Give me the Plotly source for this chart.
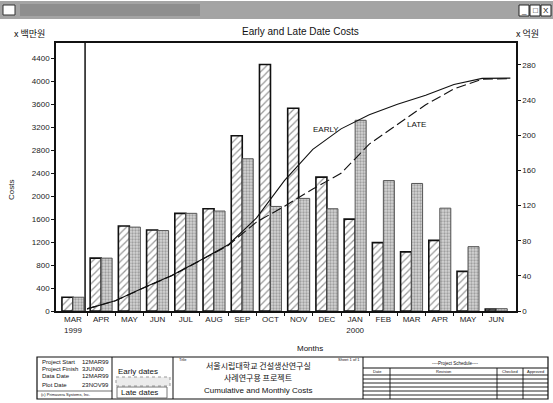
import plotly.graph_objects as go
import numpy as np

# ---- data -------------------------------------------------------------
months = ["MAR<br>1999", "APR", "MAY", "JUN", "JUL", "AUG", "SEP", "OCT",
          "NOV", "DEC", "JAN<br>2000", "FEB", "MAR", "APR", "MAY", "JUN"]
# monthly costs, 백만원
early_costs = [240, 920, 1480, 1410, 1700, 1780, 3050, 4290,
               3530, 2330, 1600, 1190, 1030, 1230, 690, 35]
late_costs = [240, 920, 1460, 1400, 1700, 1740, 2650, 1820,
              1960, 1780, 3320, 2270, 2220, 1790, 1120, 40]
left_ticks = list(range(0, 4401, 400))
right_ticks = list(range(0, 281, 40))

# ---- geometry of the page --------------------------------------------
W, H = 553, 403
L, R, T, B = 56, 516, 43, 311

def px(x):
    return (x - L) / (R - L)

def py(y):
    return (B - y) / (B - T)

FONT = "Liberation Sans, Arial, sans-serif"
KFONT = "Noto Sans CJK KR, sans-serif"

idx = np.arange(len(months))
# cumulative curves in 억원 at each month end
early_cum = np.cumsum(early_costs) / 100.0
late_cum = np.cumsum(late_costs) / 100.0
bound = idx + 0.5

fig = go.Figure()

bw = 0.39
fig.add_trace(go.Bar(
    x=idx, y=early_costs, width=bw, offset=-bw,
    marker=dict(color="white", line=dict(color="#111", width=1.6),
                pattern=dict(shape="/", fgcolor="#333", bgcolor="white",
                             size=5, solidity=0.25)),
    name="Early", showlegend=False))
fig.add_trace(go.Bar(
    x=idx, y=late_costs, width=bw, offset=0,
    marker=dict(color="#cfcfcf", line=dict(color="#555", width=1),
                pattern=dict(shape=".", fgcolor="#6a6a6a", bgcolor="#d4d4d4",
                             size=3, solidity=0.45)),
    name="Late", showlegend=False))

fig.add_trace(go.Scatter(
    x=bound, y=early_cum, yaxis="y2", mode="lines",
    line=dict(color="#111", width=1.1), showlegend=False))
fig.add_trace(go.Scatter(
    x=bound, y=late_cum, yaxis="y2", mode="lines",
    line=dict(color="#111", width=1.1, dash="10px,4px"), showlegend=False))

shapes = []
ann = []

def text(s, x, y, size=8, xa="left", ya="middle", fam=FONT, color="#111"):
    ann.append(dict(text=s, x=px(x), y=py(y), xref="paper", yref="paper",
                    xanchor=xa, yanchor=ya, showarrow=False,
                    font=dict(size=size, family=fam, color=color)))

def line(x0, y0, x1, y1, w=1, color="#111", dash=None):
    d = dict(type="line", xref="paper", yref="paper",
             x0=px(x0), y0=py(y0), x1=px(x1), y1=py(y1),
             line=dict(color=color, width=w))
    if dash:
        d["line"]["dash"] = dash
    shapes.append(d)

def rect(x0, y0, x1, y1, fill=None, color="#111", w=1, dash=None):
    d = dict(type="rect", xref="paper", yref="paper",
             x0=px(x0), y0=py(y0), x1=px(x1), y1=py(y1),
             line=dict(color=color, width=w),
             fillcolor=fill if fill else "rgba(0,0,0,0)")
    if dash:
        d["line"]["dash"] = dash
    shapes.append(d)

# window title bar
rect(0, 1, 553, 19, fill="#a4a4a4", color="#a4a4a4", w=0)
rect(20, 4, 200, 16, fill="#8e8e8e", color="#8e8e8e", w=0)
rect(3, 5, 15, 15, fill="white", color="#333", w=1)
for bx, sym in [(519, "_"), (530, "□"), (541, "X")]:
    rect(bx, 5, bx + 10, 16, fill="white", color="#222", w=1)
    text(sym, bx + 5, 10.5, size=8, xa="center", fam=FONT)

# data date line
shapes.append(dict(type="line", xref="x", yref="paper", x0=0.43, x1=0.43,
                   y0=0, y1=1, line=dict(color="#111", width=1.5)))

# headings
text("Early and Late Date Costs", 300, 32, size=10, xa="center")
text("x 백만원", 12, 33, size=9, fam=KFONT)
text("x 억원", 514, 33, size=9, fam=KFONT)
text("Months", 310, 348, size=8, xa="center")
ann.append(dict(text="Costs", x=px(11), y=py(190), xref="paper", yref="paper",
                showarrow=False, textangle=-90, xanchor="center", yanchor="middle",
                font=dict(size=8, family=FONT, color="#222")))
text("EARLY", 326, 129, size=8, xa="center")
text("LATE", 416, 124, size=8, xa="center")

# title block
rect(37, 357, 548, 399, w=1.2)
for xv in (112, 173, 363):
    line(xv, 357, xv, 399, w=1)

rows = [("Project Start", "12MAR99", 362), ("Project Finish", "3JUN00", 369),
        ("Data Date", "12MAR99", 376), ("Plot Date", "23NOV99", 385)]
for lab, val, yy in rows:
    text(lab, 40, yy, size=6)
    text(val, 80, yy, size=6)
text("(c) Primavera Systems, Inc.", 39, 394.5, size=4)
line(37, 391, 112, 391, w=0.6)

text("Early dates", 116, 371, size=8)
rect(116, 377, 170, 386, fill="#ececec", color="#999", w=1, dash="dot")
text("Late dates", 119, 392, size=8)
rect(117, 387, 167, 398, color="#555", w=0.8)

text("Title", 177, 359.5, size=4)
text("Sheet 1 of 1", 349, 359, size=4, xa="center")
text("서울시립대학교 건설생산연구실", 258, 365, size=8, xa="center", fam=KFONT)
text("사례연구용 프로젝트", 258, 377, size=8, xa="center", fam=KFONT)
text("Cumulative and Monthly Costs", 258, 390, size=8, xa="center")

text("----Project Schedule----", 455, 363.5, size=4.5, xa="center")
line(363, 368, 548, 368, w=1)
for xh, lab in [(377, "Date"), (443, "Revision"), (510, "Checked"), (535, "Approved")]:
    text(lab, xh, 371.5, size=4, xa="center")
for yy in (375, 379, 383, 387, 391, 395):
    line(363, yy, 548, yy, w=0.9)
for xv in (390, 497, 523):
    line(xv, 368, xv, 399, w=0.9)

fig.update_layout(
    width=W, height=H,
    margin=dict(l=L, r=W - R, t=T, b=H - B, pad=0),
    paper_bgcolor="white", plot_bgcolor="white",
    barmode="overlay",
    font=dict(family=FONT, size=8, color="#222"),
    xaxis=dict(range=[-0.6, 15.7], tickvals=list(idx), ticktext=months,
               ticks="", showgrid=False, zeroline=False,
               showline=True, linecolor="#111", linewidth=1.5, mirror=True,
               tickfont=dict(size=8, family=FONT, color="#222"),
               minor=dict(tickvals=list(bound[:-1]), ticks="outside",
                          ticklen=3, tickcolor="#111")),
    yaxis=dict(range=[0, 4665], tickvals=left_ticks, ticks="outside",
               ticklen=3, tickcolor="#111", showgrid=False, zeroline=False,
               showline=True, linecolor="#111", linewidth=1.5,
               tickfont=dict(size=8, family=FONT, color="#222")),
    yaxis2=dict(range=[0, 305], tickvals=right_ticks, overlaying="y",
                side="right", ticks="outside", ticklen=3, tickcolor="#111",
                showgrid=False, zeroline=False, showline=True,
                linecolor="#111", linewidth=1.5,
                tickfont=dict(size=8, family=FONT, color="#222")),
    shapes=shapes, annotations=ann, showlegend=False,
)

fig.write_html("out.html")
